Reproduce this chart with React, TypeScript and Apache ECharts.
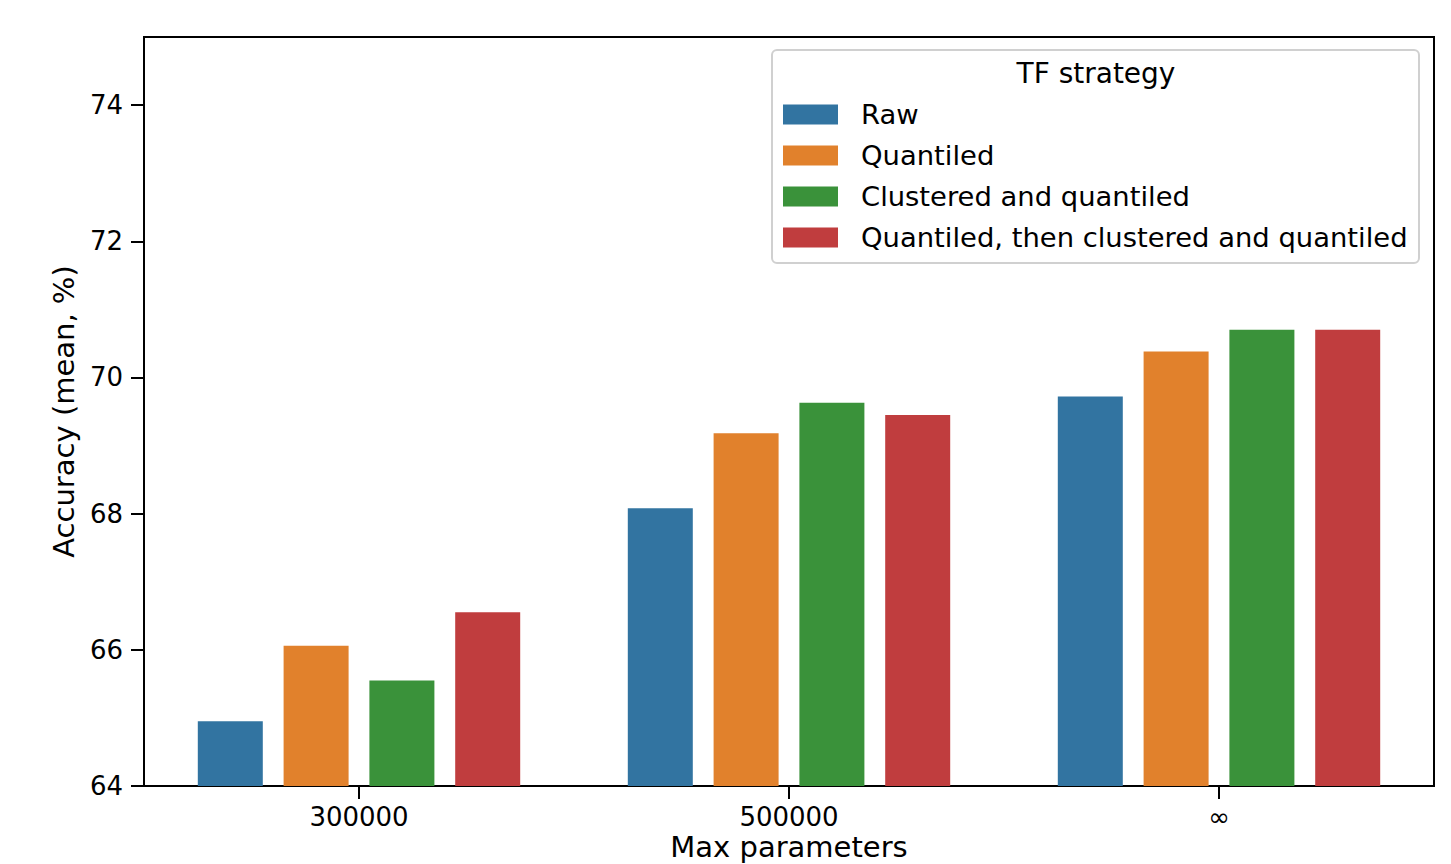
import React, { useEffect, useRef } from "react";
import * as echarts from "echarts";

const categories = ["300000", "500000", "∞"];
const seriesNames = [
  "Raw",
  "Quantiled",
  "Clustered and quantiled",
  "Quantiled, then clustered and quantiled",
];
const rawValues = [64.95, 68.08, 69.72];
const quantiledValues = [66.06, 69.18, 70.38];
const clusteredValues = [65.55, 69.63, 70.7];
const quantClusteredValues = [66.55, 69.45, 70.7];
const colors = ["#3274a1", "#e1812c", "#3a923a", "#c03d3e"];
const yTicks = [64, 66, 68, 70, 72, 74];

const FONT = "DejaVu Sans";

export default function App() {
  const ref = useRef<HTMLDivElement>(null);
  useEffect(() => {
    if (!ref.current) return;
    const chart = echarts.init(ref.current, undefined, { renderer: "svg" });
    const data = [rawValues, quantiledValues, clusteredValues, quantClusteredValues];
    chart.setOption({
      animation: false,
      textStyle: { fontFamily: FONT },
      grid: {
        left: 144,
        right: 17,
        top: 37,
        bottom: 78,
        outerBoundsMode: "none",
        containLabel: false,
        show: true,
        borderColor: "#000",
        borderWidth: 2,
        backgroundColor: "transparent",
      },
      legend: {
        orient: "vertical",
        left: 778,
        top: 96,
        itemWidth: 55,
        itemHeight: 20,
        itemGap: 14,
        icon: "rect",
        data: seriesNames,
        textStyle: {
          fontFamily: FONT,
          fontSize: 27.4,
          color: "#000",
          padding: [0, 0, 0, 18],
        },
      },
      graphic: [
        {
          type: "rect",
          shape: { x: 772, y: 50, width: 647, height: 213, r: 5 },
          style: { fill: "rgba(255,255,255,0.8)", stroke: "#d0d0d0", lineWidth: 2 },
          z: -1,
          zlevel: 0,
        },
        {
          type: "text",
          x: 1096,
          y: 73,
          style: {
            text: "TF strategy",
            fontFamily: FONT,
            fontSize: 28,
            fill: "#000",
            align: "center",
            verticalAlign: "middle",
          },
        },
      ],
      xAxis: {
        type: "category",
        data: categories,
        name: "Max parameters",
        nameLocation: "middle",
        nameGap: 47,
        nameMoveOverlap: false,
        nameTextStyle: {
          fontFamily: FONT,
          fontSize: 29,
          color: "#000",
          lineHeight: 28,
        },
        axisLine: { lineStyle: { color: "#000", width: 2 } },
        axisTick: { show: true, alignWithLabel: true, length: 13, lineStyle: { color: "#000", width: 2 } },
        axisLabel: { fontFamily: FONT, fontSize: 26, color: "#000", margin: 18, lineHeight: 26 },
        splitLine: { show: false },
      },
      yAxis: {
        type: "value",
        min: 64,
        max: 75,
        interval: 2,
        name: "Accuracy (mean, %)",
        nameLocation: "middle",
        nameGap: 66,
        nameMoveOverlap: false,
        nameTextStyle: { fontFamily: FONT, fontSize: 29, color: "#000" },
        axisLine: { show: true, lineStyle: { color: "#000", width: 2 } },
        axisTick: {
          show: true,
          length: 13,
          lineStyle: { color: "#000", width: 2 },
          customValues: yTicks,
        },
        axisLabel: {
          fontFamily: FONT,
          fontSize: 26,
          color: "#000",
          margin: 21,
          customValues: yTicks,
        },
        splitLine: { show: false },
      },
      series: seriesNames.map((name, i) => ({
        name,
        type: "bar",
        data: data[i],
        barWidth: 65,
        barGap: "32%",
        itemStyle: { color: colors[i] },
      })),
    });
    return () => chart.dispose();
  }, []);
  return <div ref={ref} style={{ width: 1451, height: 864, position: "absolute", left: 0, top: 0 }} />;
}
